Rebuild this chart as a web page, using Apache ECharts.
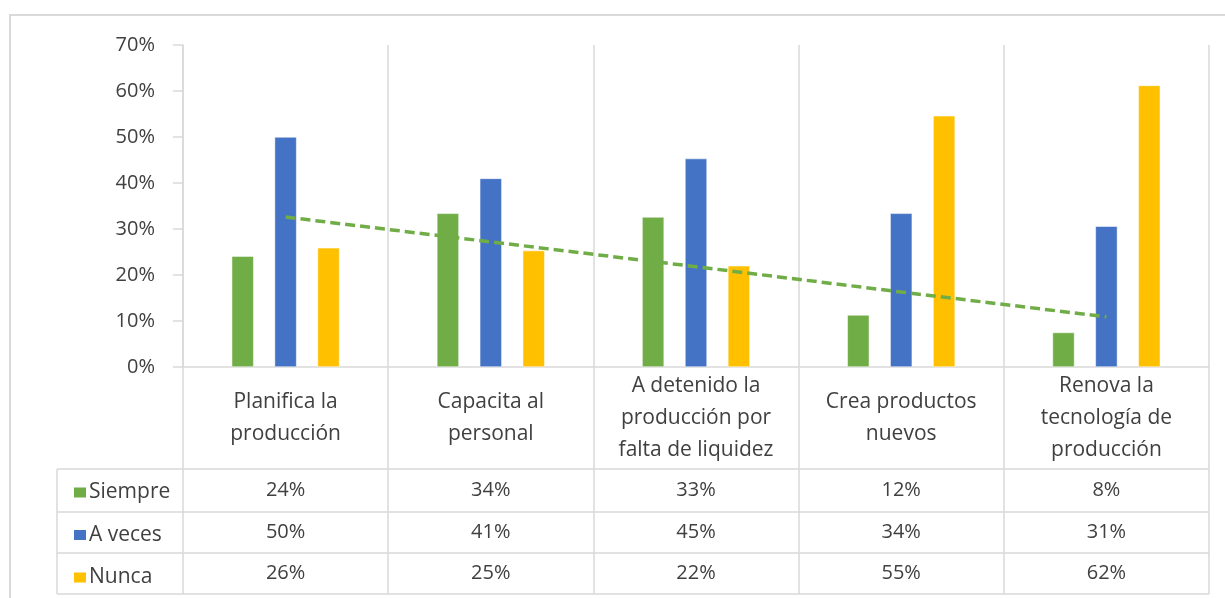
<!DOCTYPE html>
<html>
<head>
<meta charset="utf-8">
<script src="https://cdn.jsdelivr.net/npm/echarts@6/dist/echarts.min.js"></script>
<style>
  html, body { margin: 0; padding: 0; background: #fff; }
  #chart { width: 1225px; height: 598px; }
</style>
</head>
<body>
<div id="chart"></div>
<script>
const categories = [
  "Planifica la\nproducción",
  "Capacita al\npersonal",
  "A detenido la\nproducción por\nfalta de liquidez",
  "Crea productos\nnuevos",
  "Renova la\ntecnología de\nproducción"
]
const seriesNames = ["Siempre", "A veces", "Nunca"]

// bar heights (%)
const siempre = [24.1, 33.4, 32.6, 11.3, 7.5]
const aVeces = [50, 41, 45.3, 33.4, 30.6]
const nunca = [25.9, 25.3, 22, 54.6, 61.2]

// linear trend of "Siempre", as drawn
const trend = [32.6, 27.2, 21.8, 16.3, 10.9]

// data table text
const tableSiempre = ["24%", "34%", "33%", "12%", "8%"]
const tableAVeces = ["50%", "41%", "45%", "34%", "31%"]
const tableNunca = ["26%", "25%", "22%", "55%", "62%"]

const yTicks = [0, 10, 20, 30, 40, 50, 60, 70]

const colors = ["#70AD47", "#4472C4", "#FFC000"]
const lineColor = "#D9D9D9"
const textColor = "#404040"
const font = "'Open Sans', 'Noto Sans', sans-serif"

const myChart = echarts.init(document.getElementById("chart"))

// one hidden-line axis per table row, labels placed inside grid 1
const rowAxis = (rows, margin) => ({
  type: "category",
  gridIndex: 1,
  position: "top",
  data: categories,
  axisLine: { show: false },
  axisTick: { show: false },
  splitLine: { show: false },
  axisLabel: {
    inside: true,
    interval: 0,
    margin: margin,
    verticalAlign: "middle",
    color: textColor,
    fontFamily: font,
    fontSize: 20,
    formatter: (v, i) => rows[i]
  }
})

const hLine = (y) => ({
  type: "line",
  shape: { x1: 57, y1: y, x2: 1209, y2: y },
  style: { stroke: lineColor, lineWidth: 1.5 }
})

myChart.setOption({
  animation: false,
  color: colors,
  textStyle: { fontFamily: font },
  legend: {
    data: seriesNames,
    orient: "vertical",
    left: 67,
    top: 477,
    itemWidth: 14,
    itemHeight: 12,
    itemGap: 21.5,
    icon: "rect",
    textStyle: { fontSize: 21, lineHeight: 20, color: textColor, fontFamily: font, padding: [0, 0, 0, -3] }
  },
  grid: [
    { left: 183, top: 45, width: 1026, height: 322, outerBoundsMode: "none" },
    { left: 183, top: 367, width: 1026, height: 227, outerBoundsMode: "none" }
  ],
  xAxis: [
    {
      type: "category",
      gridIndex: 0,
      data: categories,
      axisLine: { lineStyle: { color: lineColor, width: 1.5 } },
      axisTick: { show: false },
      axisLabel: { show: false },
      splitLine: { show: true, interval: 0, lineStyle: { color: lineColor, width: 1.5 } }
    },
    {
      type: "category",
      gridIndex: 1,
      position: "top",
      data: categories,
      axisLine: { show: false },
      axisTick: { show: false },
      splitLine: { show: true, interval: 0, lineStyle: { color: lineColor, width: 1.5 } },
      axisLabel: {
        inside: true,
        interval: 0,
        margin: 51,
        verticalAlign: "middle",
        lineHeight: 32,
        color: textColor,
        fontFamily: font,
        fontSize: 21
      }
    },
    rowAxis(tableSiempre, 123.5),
    rowAxis(tableAVeces, 165),
    rowAxis(tableNunca, 206)
  ],
  yAxis: [
    {
      type: "value",
      gridIndex: 0,
      min: yTicks[0],
      max: yTicks[yTicks.length - 1],
      interval: 10,
      axisLine: { show: true, lineStyle: { color: lineColor, width: 1.5 } },
      axisTick: { show: true, length: 10, lineStyle: { color: lineColor, width: 1.5 } },
      splitLine: { show: false },
      axisLabel: {
        margin: 28,
        color: textColor,
        fontFamily: font,
        fontSize: 20,
        formatter: "{value}%"
      }
    },
    { type: "value", gridIndex: 1, show: false }
  ],
  series: [
    {
      name: "Siempre",
      type: "bar",
      data: siempre,
      barWidth: 22,
      barGap: "95%",
      itemStyle: { color: colors[0], borderColor: "#fff", borderWidth: 0.5 }
    },
    {
      name: "A veces",
      type: "bar",
      data: aVeces,
      barWidth: 22,
      barGap: "95%",
      itemStyle: { color: colors[1], borderColor: "#fff", borderWidth: 0.5 }
    },
    {
      name: "Nunca",
      type: "bar",
      data: nunca,
      barWidth: 22,
      barGap: "95%",
      itemStyle: { color: colors[2], borderColor: "#fff", borderWidth: 0.5 }
    },
    {
      name: "Tendencia",
      type: "line",
      data: trend,
      symbol: "none",
      z: 5,
      lineStyle: { color: colors[0], width: 3.5, type: [10, 5] }
    }
  ],
  graphic: [
    hLine(469),
    hLine(512),
    hLine(553),
    hLine(594),
    {
      type: "line",
      shape: { x1: 57, y1: 469, x2: 57, y2: 594 },
      style: { stroke: lineColor, lineWidth: 1.5 }
    },
    {
      type: "polyline",
      shape: { points: [[10, 598], [10, 15], [1225, 15]] },
      style: { stroke: lineColor, lineWidth: 2, fill: null }
    }
  ]
})

window.addEventListener("resize", () => {
  myChart.resize()
})
</script>
</body>
</html>
